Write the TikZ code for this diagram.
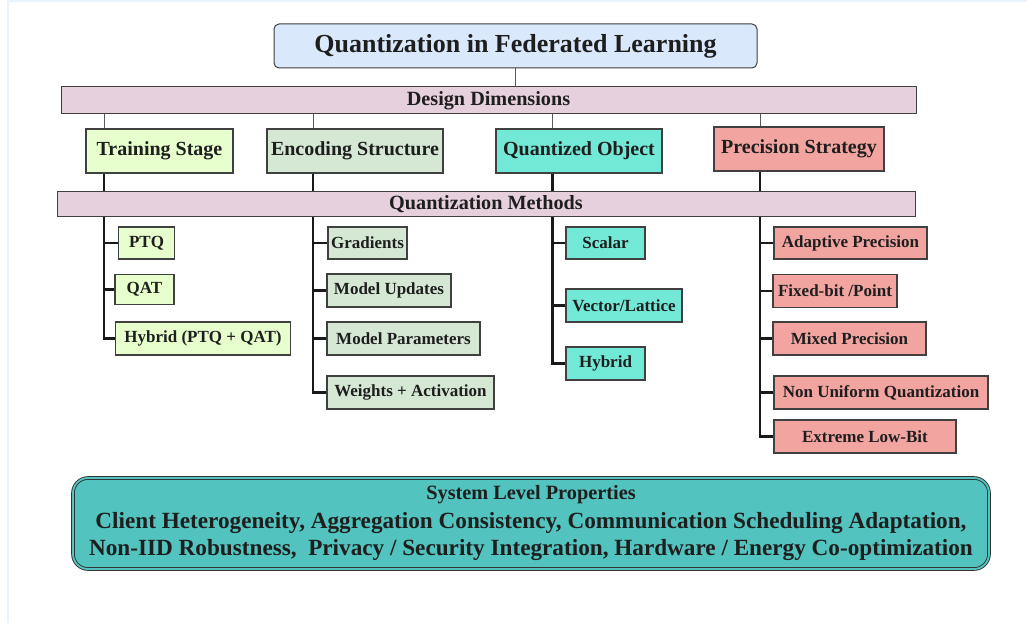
\documentclass[tikz,border=0pt]{standalone}
\usepackage{fontspec}
\newfontfamily\diagfont{Liberation Serif}
\usetikzlibrary{backgrounds}

\definecolor{titleblue}{HTML}{DAE8FC}
\definecolor{barpink}{HTML}{E6D0DE}
\definecolor{trainfill}{HTML}{E6FFCC}
\definecolor{encfill}{HTML}{D5E8D4}
\definecolor{objfill}{HTML}{72E9D7}
\definecolor{precfill}{HTML}{F2A4A1}
\definecolor{sysfill}{HTML}{52C3BE}
\definecolor{framecol}{HTML}{E8F3FB}
\definecolor{ink}{HTML}{1E1E1E}

\tikzset{
    box/.style={draw=black!75, inner sep=0pt, text=ink, font=\diagfont\bfseries},
    headbox/.style={box, rounded corners=5pt, fill=titleblue, line width=1pt,
        font=\diagfont\fontsize{26}{30}\selectfont\bfseries},
    bar/.style={box, fill=barpink, line width=1pt, font=\diagfont\fontsize{20.2}{24}\selectfont\bfseries},
    cat/.style={box, line width=1.2pt, minimum height=44, font=\diagfont\fontsize{20}{24}\selectfont\bfseries},
    leaf/.style={box, line width=1.2pt, font=\diagfont\fontsize{17}{20}\selectfont\bfseries},
    thinline/.style={draw=black!65, line width=1pt},
    thickline/.style={draw=black!90, line width=2.2pt},
}

\begin{document}
\begin{tikzpicture}[x=1pt, y=-1pt]

    \useasboundingbox (0,0) rectangle (1027,623);
    \draw[framecol, line width=2.5pt] (8,623) -- (8,1.2) -- (1027,1.2);

    % top of the tree
    \node[headbox, minimum width=483, minimum height=44] (title) at (515.5,46) {Quantization in Federated Learning};
    \node[bar, minimum width=855, minimum height=27] (dd) at (488.5,100.5) {Design Dimensions};

    % the four dimensions
    \node[cat, fill=trainfill, minimum width=147] (train) at (159.5,151) {Training Stage};
    \node[cat, fill=encfill, minimum width=176] (enc) at (355,151) {Encoding Structure};
    \node[cat, fill=objfill, minimum width=166] (obj) at (579,151) {Quantized Object};
    \node[cat, fill=precfill, minimum width=170] (prec) at (799,149) {Precision Strategy};

    \node[bar, minimum width=858, minimum height=25] (qm) at (486,204) {Quantization Methods};

    % spines
    \coordinate (s1) at (104,0);
    \coordinate (s2) at (313,0);
    \coordinate (s3) at (552.5,0);
    \coordinate (s4) at (760,0);

    % training stage
    \node[leaf, fill=trainfill, minimum width=56, minimum height=32] (ptq) at (146.5,243) {PTQ};
    \node[leaf, fill=trainfill, minimum width=59, minimum height=30] (qat) at (144.5,289.5) {QAT};
    \node[leaf, fill=trainfill, minimum width=175, minimum height=33] (hyb1) at (203,338.5) {Hybrid (PTQ + QAT)};

    % encoding structure
    \node[leaf, fill=encfill, minimum width=79, minimum height=32] (grad) at (367.5,243) {Gradients};
    \node[leaf, fill=encfill, minimum width=124, minimum height=33] (mupd) at (389,290.5) {Model Updates};
    \node[leaf, fill=encfill, minimum width=153, minimum height=33] (mpar) at (403.5,338.5) {Model Parameters};
    \node[leaf, fill=encfill, minimum width=167, minimum height=33] (wact) at (410.5,392.5) {Weights + Activation};

    % quantized object
    \node[leaf, fill=objfill, minimum width=79, minimum height=32] (scal) at (605.5,243) {Scalar};
    \node[leaf, fill=objfill, minimum width=116, minimum height=33] (vec) at (624,305.5) {Vector/Lattice};
    \node[leaf, fill=objfill, minimum width=79, minimum height=33] (hyb2) at (605.5,363.5) {Hybrid};

    % precision strategy
    \node[leaf, fill=precfill, minimum width=153, minimum height=32] (adap) at (850.5,243) {Adaptive Precision};
    \node[leaf, fill=precfill, minimum width=124, minimum height=33] (fix) at (835,291) {Fixed-bit /Point};
    \node[leaf, fill=precfill, minimum width=153, minimum height=33] (mix) at (849.5,338.5) {Mixed Precision};
    \node[leaf, fill=precfill, minimum width=214, minimum height=33] (nonu) at (881,392.5) {Non Uniform Quantization};
    \node[leaf, fill=precfill, minimum width=182, minimum height=33] (ext) at (865,436.5) {Extreme Low-Bit};

    % system level
    \node[box, fill=sysfill, rounded corners=15pt, draw=black!80, double=sysfill, double distance=1.8pt,
          line width=0.9pt, minimum width=916, minimum height=91, align=center,
          font=\diagfont\fontsize{23.2}{27.5}\selectfont\bfseries] (sys) at (531,523.5)
        {{\fontsize{20.3}{22}\selectfont System Level Properties}\\[1pt]
         Client Heterogeneity, Aggregation Consistency, Communication Scheduling Adaptation,\\
         Non-IID Robustness,\ \ Privacy / Security Integration, Hardware / Energy Co-optimization};

    \begin{scope}[on background layer]
        \draw[thinline] (title.south) -- (title.south |- dd.north);
        \foreach \c/\s in {train/s1, enc/s2, obj/s3, prec/s4}
            \draw[thinline] (\s |- dd.south) -- (\s |- \c.north);

        \foreach \c/\s in {train/s1, enc/s2, obj/s3, prec/s4}
            \draw[thickline] (\s |- \c.south) -- (\s |- qm.north);

        \foreach \k in {ptq, qat, hyb1}
            \draw[thickline] (s1 |- qm.south) |- (\k.west);
        \foreach \k in {grad, mupd, mpar, wact}
            \draw[thickline] (s2 |- qm.south) |- (\k.west);
        \foreach \k in {scal, vec, hyb2}
            \draw[thickline] (s3 |- qm.south) |- (\k.west);
        \foreach \k in {adap, fix, mix, nonu, ext}
            \draw[thickline] (s4 |- qm.south) |- (\k.west);
    \end{scope}

\end{tikzpicture}
\end{document}
